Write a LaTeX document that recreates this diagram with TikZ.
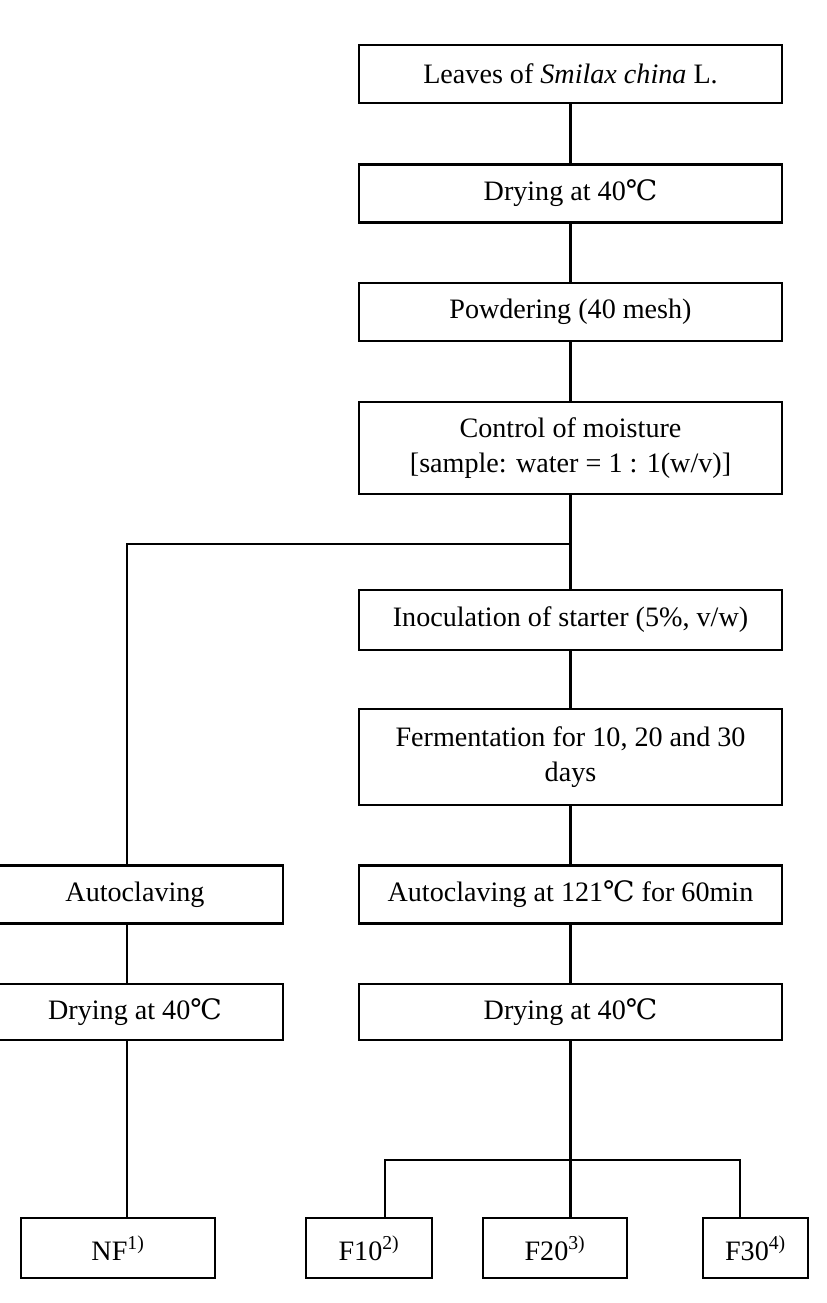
\documentclass[tikz,border=0pt]{standalone}
\usepackage{fontspec}
\setmainfont{Liberation Serif}
\newfontfamily\symfont{DejaVu Serif}
\newcommand{\degC}{{\symfont ℃}}
\usetikzlibrary{positioning}

\begin{document}
\begin{tikzpicture}[
  x=0.025cm, y=-0.025cm,
  font=\fontsize{20}{24.5}\selectfont,
  box/.style={draw, line width=1.6pt, minimum width=10.575cm, minimum height=1.45cm, align=center, inner sep=2pt},
  sidebox/.style={box, minimum width=7.4cm},
  endbox/.style={draw, line width=1.6pt, minimum height=1.5cm, inner sep=2pt},
  link/.style={line width=1.6pt}
]
\useasboundingbox (0,0) rectangle (827,1303);

% MAIN COLUMN
\node[box] (leaves) at (570.5,74) {Leaves of \textit{Smilax china} L.};
\node[box] (dry1) at (570.5,193.5) {Drying at 40\degC};
\node[box] (powder) at (570.5,312) {Powdering (40 mesh)};
\node[box, minimum height=2.3cm] (moist) at (570.5,448) {Control of moisture\\{}[sample: water = 1 : 1(w/v)]};
\node[box, minimum height=1.5cm] (inoc) at (570.5,620) {Inoculation of starter (5\%, v/w)};
\node[box, minimum height=2.4cm] (ferm) at (570.5,757) {Fermentation for 10, 20 and 30\\days};
\node[box] (auto) at (570.5,894.5) {Autoclaving at 121\degC\ for 60min};
\node[box, minimum height=1.4cm] (dry2) at (570.5,1012) {Drying at 40\degC};

% SIDE COLUMN
\node[sidebox] (autoL) at (135,894.5) {Autoclaving};
\node[sidebox, minimum height=1.4cm] (dryL) at (135,1012) {Drying at 40\degC};

% SAMPLES
\node[endbox, minimum width=4.85cm] (nf) at (118,1248) {NF\textsuperscript{1)}};
\node[endbox, minimum width=3.15cm] (f10) at (369,1248) {F10\textsuperscript{2)}};
\node[endbox, minimum width=3.6cm] (f20) at (555,1248) {F20\textsuperscript{3)}};
\node[endbox, minimum width=2.625cm] (f30) at (755.5,1248) {F30\textsuperscript{4)}};

\coordinate (split) at (570.5,544);
\coordinate (splitL) at (127,544);
\coordinate (fork) at (570.5,1160);

% LINKS
\draw[link] (leaves) -- (dry1);
\draw[link] (dry1) -- (powder);
\draw[link] (powder) -- (moist);
\draw[link] (moist) -- (inoc);
\draw[link] (inoc) -- (ferm);
\draw[link] (ferm) -- (auto);
\draw[link] (auto) -- (dry2);
\draw[link] (dry2) -- (fork);
\draw[link] (split) -- (splitL) -- (autoL.north -| splitL);
\draw[link] (autoL.south -| splitL) -- (dryL.north -| splitL);
\draw[link] (dryL.south -| splitL) -- (nf.north -| splitL);
\draw[link] (fork) -| (f10.north -| 385,0);
\draw[link] (fork) -| (f30.north -| 740,0);
\draw[link] (fork) -- (f20.north -| fork);

\end{tikzpicture}
\end{document}
